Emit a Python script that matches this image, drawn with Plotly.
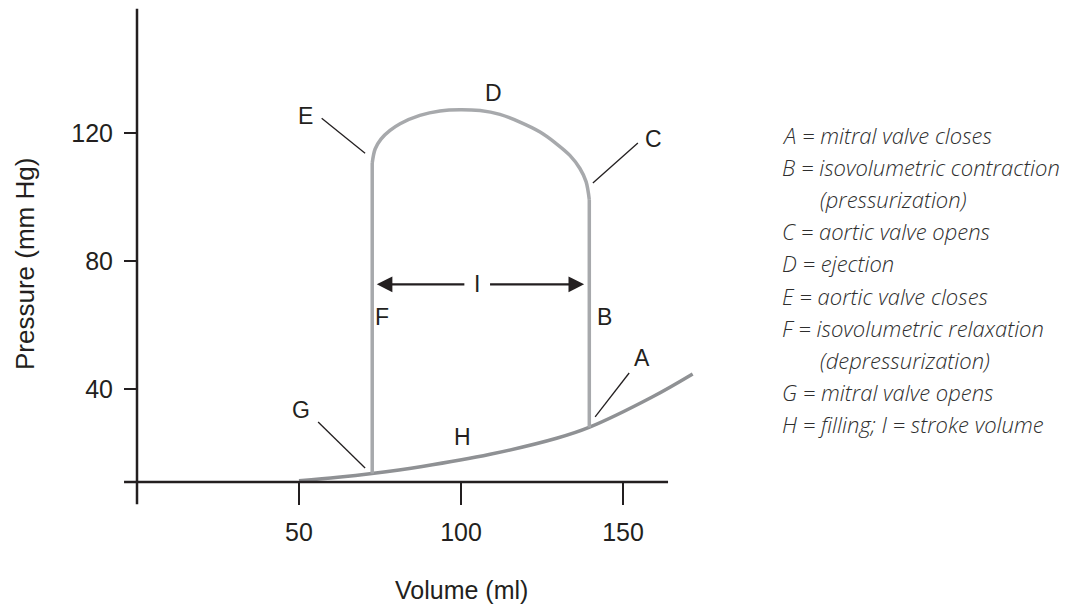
import plotly.graph_objects as go

# ---------------- data ----------------
# Filling curve (H): volume (ml) vs pressure (mm Hg)
fill_volume = [50, 62, 72.5, 88, 109, 129.5, 139.5, 159, 171.5]
fill_pressure = [11.3, 12.4, 13.6, 15.8, 19.6, 24.6, 28, 37.5, 44.7]

# Isovolumetric relaxation (F) and contraction (B)
f_volume = [72.6, 72.6]
f_pressure = [13.6, 110.6]
b_volume = [139.6, 139.6]
b_pressure = [99.1, 28]

# Ejection arc (E -> D -> C)
arc_volume = [72.6, 73.5, 75.3, 78.1, 81.2, 87.3, 93.5, 99.7, 105.9, 112.0,
              118.2, 124.4, 129.0, 133.6, 136.7, 138.6, 139.6]
arc_pressure = [110.6, 115.0, 118.1, 120.8, 122.9, 125.5, 126.9, 127.3, 127.0, 125.8,
                123.4, 120.3, 117.0, 113.0, 108.9, 104.8, 99.1]

# Stroke volume arrow (I)
stroke_left = 74
stroke_right = 138
stroke_pressure = 72.7

# Point labels
label_text = ["A", "B", "C", "D", "E", "F", "G", "H", "I"]
label_volume = [155.9, 144.4, 159.3, 109.9, 51.9, 75.6, 50.6, 100.6, 104.9]
label_pressure = [49.7, 62.5, 118.1, 132.5, 125.3, 62.5, 33.4, 25.0, 72.8]

# Leader lines: (x0, y0, x1, y1)
leaders = {
    "A": (151.9, 45.0, 141.4, 31.3),
    "C": (154.6, 116.9, 140.7, 104.4),
    "E": (57.0, 124.6, 70.4, 113.7),
    "G": (55.9, 29.7, 70.4, 15.3),
}

x_ticks = [50, 100, 150]
y_ticks = [40, 80, 120]

key_lines = [
    ("A = mitral valve closes", False),
    ("B = isovolumetric contraction", False),
    ("(pressurization)", True),
    ("C = aortic valve opens", False),
    ("D = ejection", False),
    ("E = aortic valve closes", False),
    ("F = isovolumetric relaxation", False),
    ("(depressurization)", True),
    ("G = mitral valve opens", False),
    ("H = filling; I = stroke volume", False),
]

# ---------------- figure ----------------
W, H = 1074, 605
INK = "#231f20"
LOOP = "#a7a9ac"
FILL = "#8f9194"

fig = go.Figure()

fig.add_trace(go.Scatter(x=fill_volume, y=fill_pressure, mode="lines",
                         line=dict(color=FILL, width=3.5, shape="spline", smoothing=1.0),
                         hoverinfo="skip", showlegend=False))
fig.add_trace(go.Scatter(x=f_volume, y=f_pressure, mode="lines",
                         line=dict(color=LOOP, width=3.5), hoverinfo="skip", showlegend=False))
fig.add_trace(go.Scatter(x=b_volume, y=b_pressure, mode="lines",
                         line=dict(color=LOOP, width=3.5), hoverinfo="skip", showlegend=False))
fig.add_trace(go.Scatter(x=arc_volume, y=arc_pressure, mode="lines",
                         line=dict(color=LOOP, width=3.5, shape="spline", smoothing=1.0),
                         hoverinfo="skip", showlegend=False))

for k, (x0, y0, x1, y1) in leaders.items():
    fig.add_trace(go.Scatter(x=[x0, x1], y=[y0, y1], mode="lines",
                             line=dict(color=INK, width=1.3), hoverinfo="skip", showlegend=False))

# Axis lines
fig.add_shape(type="line", xref="x", yref="y", x0=-4, x1=163.9, y0=10.9, y1=10.9,
              line=dict(color=INK, width=2.5))
fig.add_shape(type="line", xref="x", yref="y", x0=0, x1=0, y0=4, y1=158.8,
              line=dict(color=INK, width=2.5))

# Letters
for t, xv, yv in zip(label_text, label_volume, label_pressure):
    fig.add_annotation(x=xv, y=yv, xref="x", yref="y", text=t, showarrow=False,
                       xanchor="center", yanchor="middle",
                       font=dict(family="Liberation Sans, Arial", size=23, color=INK))

# Stroke volume arrows
mid_gap = 3.5
for tip, tail in [(stroke_left, 105 - mid_gap), (stroke_right, 105 + mid_gap)]:
    fig.add_annotation(x=tip, y=stroke_pressure, ax=tail, ay=stroke_pressure,
                       xref="x", yref="y", axref="x", ayref="y", text="",
                       showarrow=True, arrowhead=2, arrowsize=1.3, arrowwidth=2.4,
                       arrowcolor=INK)

# Key text
key_y0 = 135
key_dy = 32.1
for i, (txt, indent) in enumerate(key_lines):
    py = key_y0 + i * key_dy
    px = 818 if indent else 780
    fig.add_annotation(x=px / W, y=(H - py) / H, xref="paper", yref="paper",
                       xanchor="left", yanchor="middle", text=txt, showarrow=False,
                       font=dict(family="Open Sans", size=22, color="#2e2e2e",
                                 style="italic", weight=300))

# Axis titles
fig.add_annotation(x=461 / W, y=(H - 590) / H, xref="paper", yref="paper",
                   xanchor="center", yanchor="middle",
                   text="Volume (ml)", showarrow=False,
                   font=dict(family="Liberation Sans, Arial", size=25, color=INK))
fig.add_annotation(x=25 / W, y=(H - 264) / H, xref="paper", yref="paper",
                   xanchor="center", yanchor="middle",
                   text="Pressure (mm Hg)", showarrow=False, textangle=-90,
                   font=dict(family="Liberation Sans, Arial", size=26, color=INK))

x_origin_px = 137
x_scale = 3.24
y_zero_px = 517
y_scale = 3.2

fig.update_layout(
    width=W, height=H,
    margin=dict(l=0, r=0, t=0, b=0),
    paper_bgcolor="white", plot_bgcolor="white",
    showlegend=False,
    xaxis=dict(range=[-x_origin_px / x_scale, (W - x_origin_px) / x_scale],
               domain=[0, 1], anchor="free", position=(H - 482) / H,
               showgrid=False, zeroline=False, showline=False,
               ticks="outside", ticklen=22, tickwidth=1.5, tickcolor=INK,
               tickvals=x_ticks, ticktext=[str(v) for v in x_ticks],
               ticklabelstandoff=6,
               tickfont=dict(family="Liberation Sans, Arial", size=25, color=INK),
               fixedrange=True),
    yaxis=dict(range=[(y_zero_px - H) / y_scale, y_zero_px / y_scale],
               domain=[0, 1], anchor="free", position=x_origin_px / W,
               showgrid=False, zeroline=False, showline=False,
               ticks="outside", ticklen=13, tickwidth=1.5, tickcolor=INK,
               tickvals=y_ticks, ticktext=[str(v) for v in y_ticks],
               ticklabelstandoff=6,
               tickfont=dict(family="Liberation Sans, Arial", size=25, color=INK),
               fixedrange=True),
)

fig.write_html("out.html", config={"displayModeBar": False},
               post_script="document.body.style.margin='0px';")
